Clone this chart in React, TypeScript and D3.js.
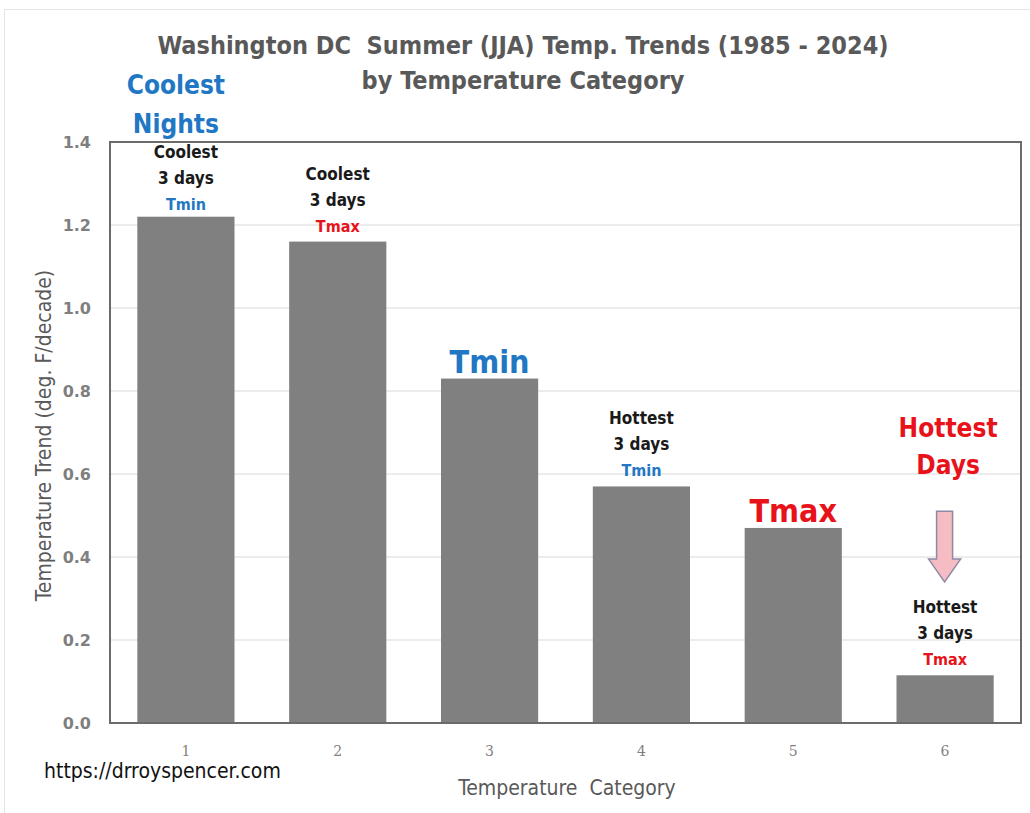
import React, { useRef, useEffect } from "react";
import * as d3 from "d3";

// chart values
const categories: string[] = ["1", "2", "3", "4", "5", "6"];
const trends: number[] = [1.22, 1.16, 0.83, 0.57, 0.47, 0.115];
const yTicks: number[] = [0, 0.2, 0.4, 0.6, 0.8, 1.0, 1.2, 1.4];

// small notes above some bars
const noteTop: string[] = ["Coolest", "Coolest", "", "Hottest", "", "Hottest"];
const noteDays: string[] = ["3 days", "3 days", "", "3 days", "", "3 days"];
const noteKind: string[] = ["Tmin", "Tmax", "", "Tmin", "", "Tmax"];
// big labels
const bigLabels: string[] = ["", "", "Tmin", "", "Tmax", ""];

const BLUE = "#2277c4";
const RED = "#e8121b";
const GRAY = "#595959";
const FONT = "'Liberation Sans Narrow', 'DejaVu Sans Condensed', sans-serif";

const App = () => {
    const canvas = useRef<SVGSVGElement>(null);

    const W = 1030;
    const H = 813;
    const margin = { top: 142, right: 9, bottom: 90, left: 110 };
    const width = W - margin.left - margin.right;
    const height = H - margin.top - margin.bottom;

    useEffect(() => {
        const svg = d3.select(canvas.current);
        svg.selectAll("*").remove();

        const xScale = d3.scaleBand().domain(categories).range([0, width]).paddingInner(0.36).paddingOuter(0.18);
        const yScale = d3.scaleLinear().domain([0, 1.4]).range([height, 0]);

        svg.append("rect").attr("width", W).attr("height", H).attr("fill", "white");
        // faint frame of the whole chart
        svg.append("rect").attr("x", 4.5).attr("y", 9.5).attr("width", W).attr("height", H)
            .attr("fill", "none").attr("stroke", "#e3e3e3");

        // title
        const title = svg.append("text").attr("x", 523).attr("text-anchor", "middle")
            .style("font-family", FONT).style("font-weight", "bold").style("font-size", "25px").attr("fill", GRAY);
        title.append("tspan").attr("x", 523).attr("y", 54).text("Washington DC\u00a0 Summer (JJA) Temp. Trends (1985 - 2024)");
        title.append("tspan").attr("x", 523).attr("y", 89).text("by Temperature Category");

        const g = svg.append("g").attr("transform", "translate(" + margin.left + "," + margin.top + ")");

        // gridlines
        g.selectAll("line.grid").data(yTicks.slice(1)).enter().append("line")
            .attr("x1", 0).attr("x2", width)
            .attr("y1", (d: number) => yScale(d)).attr("y2", (d: number) => yScale(d))
            .attr("stroke", "#d9d9d9").attr("stroke-width", 1);

        // y tick labels
        g.selectAll("text.ytick").data(yTicks).enter().append("text")
            .attr("x", -19).attr("y", (d: number) => yScale(d)).attr("dy", "0.35em")
            .attr("text-anchor", "end").attr("fill", "#7f7f7f")
            .style("font-family", "'DejaVu Sans', sans-serif").style("font-weight", "bold").style("font-size", "16px")
            .text((d: number) => d3.format(".1f")(d));

        // bars
        g.selectAll("rect.bar").data(trends).enter().append("rect")
            .attr("x", (_d: number, i: number) => xScale(categories[i]) as number)
            .attr("y", (d: number) => yScale(d))
            .attr("width", xScale.bandwidth())
            .attr("height", (d: number) => height - yScale(d))
            .attr("fill", "#808080");

        // plot frame
        g.append("rect").attr("x", 0).attr("y", 0).attr("width", width).attr("height", height)
            .attr("fill", "none").attr("stroke", "#6b6b6b").attr("stroke-width", 2);

        // x tick labels
        g.selectAll("text.xtick").data(categories).enter().append("text")
            .attr("x", (d: string) => (xScale(d) as number) + xScale.bandwidth() / 2)
            .attr("y", height + 33).attr("text-anchor", "middle").attr("fill", "#7f7f7f")
            .style("font-family", "'DejaVu Serif', serif").style("font-size", "14px")
            .text((d: string) => d);

        const cx = (i: number) => (xScale(categories[i]) as number) + xScale.bandwidth() / 2;

        // small notes
        categories.forEach((c, i) => {
            if (!noteTop[i]) return;
            const base = Math.max(yScale(trends[i]) - 10, 68);
            const t = g.append("text").attr("text-anchor", "middle")
                .style("font-family", FONT).style("font-weight", "bold").style("font-size", "17px");
            t.append("tspan").attr("x", cx(i)).attr("y", base - 52).attr("fill", "#1a1a1a").text(noteTop[i]);
            t.append("tspan").attr("x", cx(i)).attr("y", base - 26).attr("fill", "#1a1a1a").text(noteDays[i]);
            t.append("tspan").attr("x", cx(i)).attr("y", base).attr("fill", noteKind[i] === "Tmin" ? BLUE : RED)
                .style("font-size", "16px").text(noteKind[i]);
        });

        // big labels above bars 3 and 5
        categories.forEach((c, i) => {
            if (!bigLabels[i]) return;
            g.append("text").attr("x", cx(i)).attr("y", yScale(trends[i]) - 6).attr("text-anchor", "middle")
                .style("font-family", FONT).style("font-weight", "bold").style("font-size", "32px")
                .attr("fill", bigLabels[i] === "Tmin" ? BLUE : RED).text(bigLabels[i]);
        });

        // Coolest Nights / Hottest Days
        const cn = g.append("text").attr("text-anchor", "middle")
            .style("font-family", FONT).style("font-weight", "bold").style("font-size", "26px").attr("fill", BLUE);
        cn.append("tspan").attr("x", cx(0) - 10).attr("y", -48).text("Coolest");
        cn.append("tspan").attr("x", cx(0) - 10).attr("y", -9).text("Nights");

        const hd = g.append("text").attr("text-anchor", "middle")
            .style("font-family", FONT).style("font-weight", "bold").style("font-size", "26px").attr("fill", RED);
        hd.append("tspan").attr("x", cx(5) + 3).attr("y", yScale(0.69)).text("Hottest");
        hd.append("tspan").attr("x", cx(5) + 3).attr("y", yScale(0.60)).text("Days");

        // down arrow above bar 6
        const ax = cx(5) - 0.5;
        const yTop = yScale(0.51);
        const yNeck = yScale(0.395);
        const yTip = yScale(0.34);
        const arrow = d3.path();
        arrow.moveTo(ax - 8, yTop);
        arrow.lineTo(ax + 8, yTop);
        arrow.lineTo(ax + 8, yNeck);
        arrow.lineTo(ax + 16, yNeck);
        arrow.lineTo(ax, yTip);
        arrow.lineTo(ax - 16, yNeck);
        arrow.lineTo(ax - 8, yNeck);
        arrow.closePath();
        g.append("path").attr("d", arrow.toString()).attr("fill", "#f6bcc4")
            .attr("stroke", "#8e8aa6").attr("stroke-width", 1.5);

        // axis titles
        svg.append("text").attr("transform", "translate(51," + (margin.top + height / 2 + 3) + ") rotate(-90)")
            .attr("text-anchor", "middle").attr("fill", GRAY)
            .style("font-family", FONT).style("font-size", "21px")
            .text("Temperature Trend (deg. F/decade)");

        svg.append("text").attr("x", 567).attr("y", 795).attr("text-anchor", "middle").attr("fill", GRAY)
            .style("font-family", FONT).style("font-size", "21px")
            .text("Temperature\u00a0 Category");

        svg.append("text").attr("x", 44).attr("y", 778).attr("fill", "#111")
            .style("font-family", FONT).style("font-size", "21px")
            .text("https://drroyspencer.com");
    });

    return (
        <svg ref={canvas} width={W} height={H} style={{ position: "absolute", left: 0, top: 0 }}></svg>
    );
};

export default App;
